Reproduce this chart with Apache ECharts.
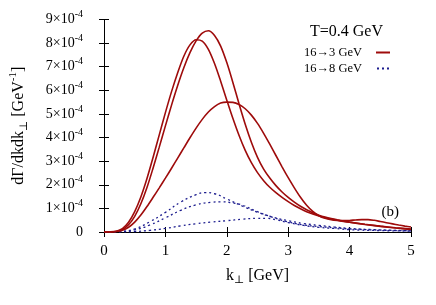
<!DOCTYPE html>
<html>
<head>
<meta charset="utf-8">
<script src="https://cdn.jsdelivr.net/npm/echarts@6/dist/echarts.min.js"></script>
<style>
html,body{margin:0;padding:0;background:#fff;}
#chart{width:436px;height:305px;}
</style>
</head>
<body>
<div id="chart"></div>
<script>
// ---- data (y values in units of 1e-4 GeV^-1) ----
const xTicks = [0, 1, 2, 3, 4, 5];
const yTicks = [0, 1, 2, 3, 4, 5, 6, 7, 8, 9];

const redA_k = [0,0.1,0.2,0.3,0.4,0.5,0.6,0.7,0.8,0.9,1.0,1.1,1.2,1.3,1.4,1.5,1.6,1.7,1.8,1.9,2.0,2.1,2.2,2.3,2.4,2.5,2.6,2.7,2.8,2.9,3.0,3.1,3.2,3.3,3.4,3.5,3.6,3.7,3.8,3.9,4.0,4.25,4.5,4.75,5.0];
const redA_v = [0,0.004,0.024,0.104,0.304,0.664,1.194,1.884,2.714,3.594,4.494,5.374,6.204,6.954,7.594,8.094,8.424,8.524,8.324,7.874,7.174,6.324,5.424,4.564,3.804,3.164,2.664,2.284,1.964,1.694,1.464,1.264,1.089,0.939,0.814,0.714,0.634,0.569,0.514,0.464,0.419,0.33,0.25,0.18,0.12];

const redB_k = [0,0.1,0.2,0.3,0.4,0.5,0.6,0.7,0.8,0.9,1.0,1.1,1.2,1.3,1.4,1.5,1.6,1.7,1.8,1.9,2.0,2.1,2.2,2.3,2.4,2.5,2.6,2.7,2.8,2.9,3.0,3.1,3.2,3.3,3.4,3.5,3.6,3.7,3.8,3.9,4.0,4.25,4.5,4.75,5.0];
const redB_v = [0,0.005,0.035,0.145,0.415,0.865,1.485,2.265,3.165,4.115,5.055,5.945,6.745,7.445,7.925,8.145,8.085,7.735,7.135,6.385,5.585,4.805,4.085,3.455,2.935,2.515,2.175,1.895,1.665,1.465,1.285,1.125,0.985,0.86,0.76,0.675,0.605,0.545,0.495,0.45,0.41,0.32,0.24,0.17,0.11];

const redC_k = [0,0.1,0.2,0.3,0.4,0.5,0.6,0.7,0.8,0.9,1.0,1.1,1.2,1.3,1.4,1.5,1.6,1.7,1.8,1.9,2.0,2.1,2.2,2.3,2.4,2.5,2.6,2.7,2.8,2.9,3.0,3.1,3.2,3.3,3.4,3.5,3.6,3.7,3.8,3.9,4.0,4.1,4.2,4.3,4.4,4.5,4.6,4.7,4.8,4.9,5.0];
const redC_v = [0,0.003,0.02,0.07,0.2,0.42,0.72,1.08,1.47,1.87,2.28,2.7,3.13,3.56,3.99,4.4,4.77,5.08,5.31,5.46,5.5,5.49,5.4,5.22,4.95,4.6,4.18,3.72,3.24,2.76,2.3,1.87,1.47,1.13,0.87,0.69,0.58,0.52,0.49,0.48,0.49,0.51,0.525,0.525,0.495,0.445,0.395,0.345,0.295,0.25,0.21];

const blue1_k = [0,0.25,0.5,0.75,1.0,1.25,1.5,1.65,1.8,2.0,2.25,2.5,2.75,3.0,3.25,3.5,3.75,4.0,4.5,5.0];
const blue1_v = [0,0.02,0.13,0.44,0.83,1.27,1.58,1.67,1.62,1.4,1.1,0.84,0.63,0.48,0.36,0.28,0.21,0.15,0.09,0.05];

const blue2_k = [0,0.25,0.5,0.75,1.0,1.25,1.5,1.75,1.9,2.1,2.25,2.5,2.75,3.0,3.25,3.5,3.75,4.0,4.5,5.0];
const blue2_v = [0,0.015,0.09,0.3,0.6,0.92,1.15,1.26,1.28,1.23,1.14,0.86,0.62,0.43,0.3,0.23,0.18,0.13,0.08,0.05];

const blue3_k = [0,0.25,0.5,0.75,1.0,1.25,1.5,1.75,2.0,2.25,2.5,2.65,2.8,3.0,3.25,3.5,3.75,4.0,4.5,5.0];
const blue3_v = [0,0.005,0.02,0.07,0.15,0.26,0.35,0.42,0.48,0.54,0.58,0.58,0.52,0.4,0.28,0.2,0.15,0.1,0.06,0.04];

const nameRed = '16\u21923 GeV';
const nameBlue = '16\u21928 GeV';

// ---- chart ----
const FONT = '"Liberation Serif", "DejaVu Serif", serif';
const RED = '#9e0b0b';
const BLUE = '#1c1c8e';

function pairs(ks, vs) { return ks.map((k, i) => [k, vs[i]]); }

function redSeries(ks, vs) {
  return { name: nameRed, type: 'line', data: pairs(ks, vs), smooth: 0.3,
    symbol: 'none', lineStyle: { color: RED, width: 1.6 }, itemStyle: { color: RED },
    animation: false, z: 3 };
}
function blueSeries(ks, vs) {
  return { name: nameBlue, type: 'line', data: pairs(ks, vs), smooth: 0.5,
    symbol: 'none', lineStyle: { color: BLUE, width: 1.3, type: [2, 3] }, itemStyle: { color: BLUE },
    animation: false, z: 2 };
}

const chart = echarts.init(document.getElementById('chart'), null, { renderer: 'canvas' });

const tickStyle = { inside: true, length: 5, lineStyle: { color: '#000', width: 1 } };
const axisLineStyle = { show: true, lineStyle: { color: '#000', width: 1 } };

chart.setOption({
  animation: false,
  backgroundColor: '#fff',
  textStyle: { fontFamily: FONT },
  grid: { left: 103, right: 25, top: 19.5, bottom: 73, containLabel: false },
  title: [
    { text: 'T=0.4 GeV', right: 53, top: 24, padding: 0,
      textStyle: { fontFamily: FONT, fontSize: 16, fontWeight: 'normal', color: '#000' } },
    { text: '(b)', right: 37, top: 205, padding: 0,
      textStyle: { fontFamily: FONT, fontSize: 15, fontWeight: 'normal', color: '#000' } }
  ],
  legend: {
    data: [
      { name: nameRed, icon: 'rect' },
      { name: nameBlue, icon: 'path://M0,0h2v2h-2zM5,0h2v2h-2zM10,0h2v2h-2z' }
    ],
    orient: 'vertical', align: 'right', right: 46, top: 46, padding: 0,
    itemWidth: 14, itemHeight: 2, itemGap: 3,
    textStyle: { fontFamily: FONT, fontSize: 12.5, color: '#000', padding: [0, 9, 0, 0] },
    selectedMode: false
  },
  xAxis: [
    { type: 'value', min: 0, max: 5, interval: 1, position: 'bottom',
      name: '{k|k}{sub|\u22a5}{t| [GeV]}', nameLocation: 'middle', nameGap: 34,
      nameTextStyle: { fontFamily: FONT, color: '#000', rich: {
        k: { fontFamily: FONT, fontSize: 16, lineHeight: 20, verticalAlign: 'middle' },
        sub: { fontFamily: FONT, fontSize: 11, lineHeight: 8, verticalAlign: 'bottom' },
        t: { fontFamily: FONT, fontSize: 16, lineHeight: 20, verticalAlign: 'middle' } } },
      axisLine: axisLineStyle, axisTick: tickStyle, splitLine: { show: false },
      axisLabel: { fontFamily: FONT, fontSize: 15, color: '#000', margin: 12,
        formatter: v => xTicks.includes(Math.round(v)) ? String(Math.round(v)) : '' } },
    { type: 'value', min: 0, max: 5, interval: 1, position: 'top',
      axisLine: axisLineStyle, axisTick: tickStyle, axisLabel: { show: false }, splitLine: { show: false } }
  ],
  yAxis: [
    { type: 'value', min: 0, max: 9, interval: 1, position: 'left',
      name: '{a|d\u0393/dkdk}{sub|\u22a5}{a| [GeV}{sup|-1}{a|]}', nameLocation: 'middle', nameGap: 74,
      nameTextStyle: { fontFamily: FONT, color: '#000', rich: {
        a: { fontFamily: FONT, fontSize: 16, lineHeight: 22, verticalAlign: 'middle' },
        sub: { fontFamily: FONT, fontSize: 11, lineHeight: 8, verticalAlign: 'bottom' },
        sup: { fontFamily: FONT, fontSize: 11, lineHeight: 8, verticalAlign: 'top' } } },
      axisLine: axisLineStyle, axisTick: tickStyle, splitLine: { show: false },
      axisLabel: { fontFamily: FONT, color: '#000', margin: 21,
        formatter: v => { const n = Math.round(v); if (!yTicks.includes(n)) return ''; return n === 0 ? '{a|0}' : '{a|' + n + '\u00d710}{s|-4}'; },
        rich: {
          a: { fontFamily: FONT, fontSize: 14, lineHeight: 20, verticalAlign: 'middle', color: '#000' },
          s: { fontFamily: FONT, fontSize: 10, lineHeight: 9, verticalAlign: 'top', color: '#000' } } } },
    { type: 'value', min: 0, max: 9, interval: 1, position: 'right',
      axisLine: axisLineStyle, axisTick: tickStyle, axisLabel: { show: false }, splitLine: { show: false } }
  ],
  series: [
    blueSeries(blue1_k, blue1_v),
    blueSeries(blue2_k, blue2_v),
    blueSeries(blue3_k, blue3_v),
    redSeries(redA_k, redA_v),
    redSeries(redB_k, redB_v),
    redSeries(redC_k, redC_v)
  ]
});
</script>
</body>
</html>
